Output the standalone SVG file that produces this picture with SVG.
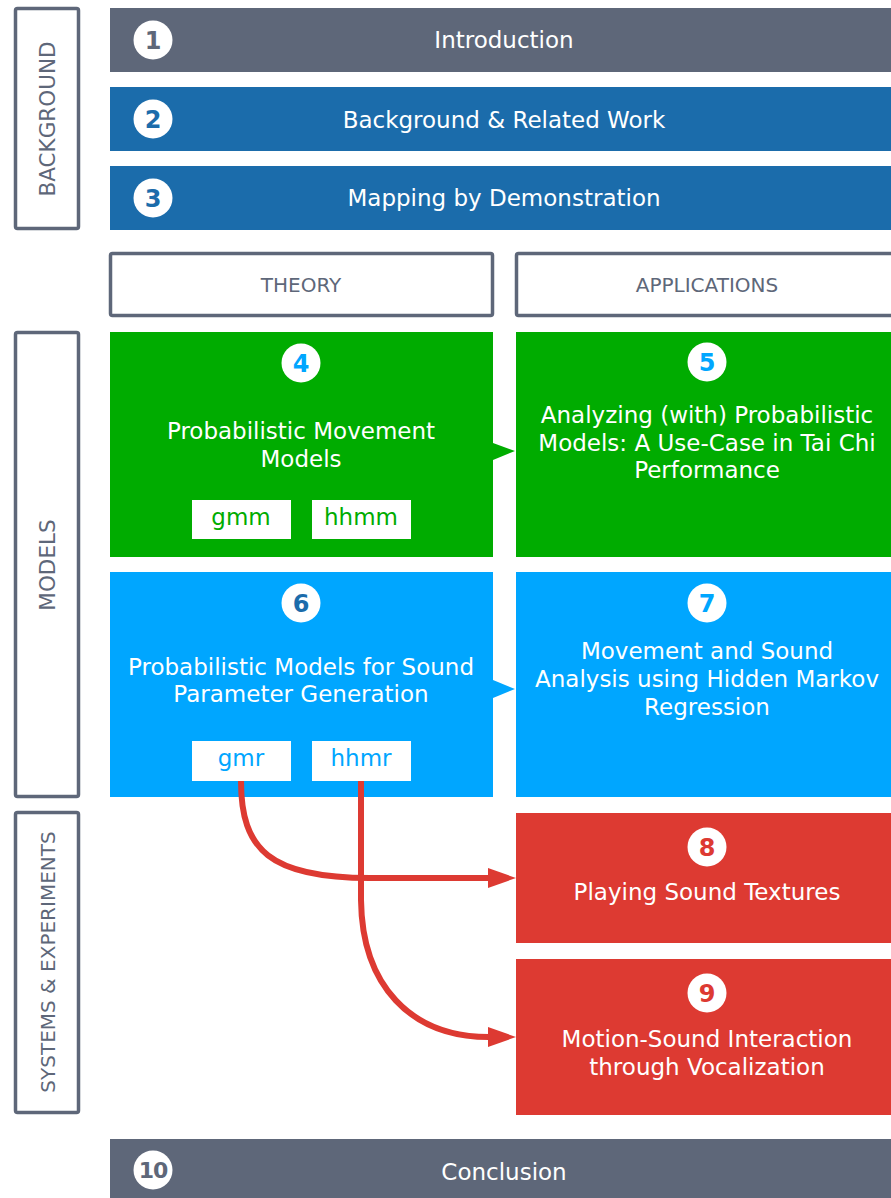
<svg xmlns="http://www.w3.org/2000/svg" width="891" height="1198" viewBox="0 0 891 1198">
<defs>
<style>
.t{font-family:"DejaVu Sans","Liberation Sans",sans-serif;font-size:23px;fill:#ffffff;text-anchor:middle}
.side{fill:#ffffff;stroke:#5e6779;stroke-width:3.5}
.sl{font-family:"DejaVu Sans","Liberation Sans",sans-serif;font-size:20px;fill:#5e6779;text-anchor:middle}
.vl{font-size:21.5px}
.num{font-family:"DejaVu Sans","Liberation Sans",sans-serif;font-size:24px;font-weight:bold;text-anchor:middle}
.tg{font-family:"DejaVu Sans","Liberation Sans",sans-serif;font-size:23px;text-anchor:middle}
.tag{fill:#ffffff}
.conn{fill:none;stroke:#dd3a32;stroke-width:6}
</style>
<marker id="ah" viewBox="0 0 28 20" markerWidth="28" markerHeight="20" refX="1" refY="10" orient="auto" markerUnits="userSpaceOnUse">
<path d="M0,0 L28,10 L0,20 Z" fill="#dd3a32"/>
</marker>
</defs>
<rect width="891" height="1198" fill="#ffffff"/>

<g id="label-background">
<rect class="side" x="15.5" y="8.5" width="63" height="220" rx="2"/>
<text class="sl vl" transform="translate(55,119) rotate(-90)">BACKGROUND</text>
</g>
<g id="label-models">
<rect class="side" x="15.5" y="332.5" width="63" height="464" rx="2"/>
<text class="sl vl" transform="translate(55,565) rotate(-90)">MODELS</text>
</g>
<g id="label-systems">
<rect class="side" x="15.5" y="812.5" width="63" height="300" rx="2"/>
<text class="sl" transform="translate(55,962) rotate(-90)">SYSTEMS &amp; EXPERIMENTS</text>
</g>

<g id="node-1">
<rect x="110" y="8" width="781" height="64" fill="#5e6779"/>
<circle cx="153" cy="40" r="19.5" fill="#ffffff"/>
<text class="num" x="153" y="48.7" fill="#5e6779">1</text>
<text class="t" x="504" y="48">Introduction</text>
</g>
<g id="node-2">
<rect x="110" y="87" width="781" height="64" fill="#1b6cab"/>
<circle cx="153" cy="119" r="19.5" fill="#ffffff"/>
<text class="num" x="153" y="127.7" fill="#1b6cab">2</text>
<text class="t" x="504" y="128">Background &amp; Related Work</text>
</g>
<g id="node-3">
<rect x="110" y="166" width="781" height="64" fill="#1b6cab"/>
<circle cx="153" cy="198" r="19.5" fill="#ffffff"/>
<text class="num" x="153" y="206.7" fill="#1b6cab">3</text>
<text class="t" x="504" y="206">Mapping by Demonstration</text>
</g>

<g id="header-theory">
<rect class="side" x="110.5" y="253.5" width="382" height="62" rx="2"/>
<text class="sl" x="301" y="292">THEORY</text>
</g>
<g id="header-applications">
<rect class="side" x="516.5" y="253.5" width="380" height="62" rx="2"/>
<text class="sl" x="707" y="292">APPLICATIONS</text>
</g>

<g id="node-4">
<rect x="110" y="332" width="383" height="225" fill="#00ac00"/>
<circle cx="301" cy="363" r="19.5" fill="#ffffff"/>
<text class="num" x="301" y="371.7" fill="#00a6ff">4</text>
<text class="t" x="301" y="439">Probabilistic Movement</text>
<text class="t" x="301" y="467">Models</text>
<rect class="tag" x="192" y="500" width="99" height="39"/>
<text class="tg" x="241" y="525" fill="#00ac00">gmm</text>
<rect class="tag" x="312" y="500" width="99" height="39"/>
<text class="tg" x="361" y="525" fill="#00ac00">hhmm</text>
</g>
<g id="node-5">
<rect x="516" y="332" width="375" height="225" fill="#00ac00"/>
<circle cx="707" cy="362" r="19.5" fill="#ffffff"/>
<text class="num" x="707" y="370.7" fill="#00a6ff">5</text>
<text class="t" x="707" y="423">Analyzing (with) Probabilistic</text>
<text class="t" x="707" y="451">Models: A Use-Case in Tai Chi</text>
<text class="t" x="707" y="478">Performance</text>
</g>
<g id="node-6">
<rect x="110" y="572" width="383" height="225" fill="#00a6ff"/>
<circle cx="301" cy="603" r="19.5" fill="#ffffff"/>
<text class="num" x="301" y="611.7" fill="#1b6cab">6</text>
<text class="t" x="301" y="675">Probabilistic Models for Sound</text>
<text class="t" x="301" y="702">Parameter Generation</text>
<rect class="tag" x="192" y="741" width="99" height="40"/>
<text class="tg" x="241" y="766" fill="#00a6ff">gmr</text>
<rect class="tag" x="312" y="741" width="99" height="40"/>
<text class="tg" x="361" y="766" fill="#00a6ff">hhmr</text>
</g>
<g id="node-7">
<rect x="516" y="572" width="375" height="225" fill="#00a6ff"/>
<circle cx="707" cy="603" r="19.5" fill="#ffffff"/>
<text class="num" x="707" y="611.7" fill="#00a6ff">7</text>
<text class="t" x="707" y="659">Movement and Sound</text>
<text class="t" x="707" y="687">Analysis using Hidden Markov</text>
<text class="t" x="707" y="715">Regression</text>
</g>
<g id="node-8">
<rect x="516" y="813" width="375" height="130" fill="#dd3a32"/>
<circle cx="707" cy="847" r="19.5" fill="#ffffff"/>
<text class="num" x="707" y="855.7" fill="#dd3a32">8</text>
<text class="t" x="707" y="900">Playing Sound Textures</text>
</g>
<g id="node-9">
<rect x="516" y="959" width="375" height="156" fill="#dd3a32"/>
<circle cx="707" cy="993" r="19.5" fill="#ffffff"/>
<text class="num" x="707" y="1001.7" fill="#dd3a32">9</text>
<text class="t" x="707" y="1047">Motion-Sound Interaction</text>
<text class="t" x="707" y="1075">through Vocalization</text>
</g>
<g id="node-10">
<rect x="110" y="1139" width="781" height="59" fill="#5e6779"/>
<circle cx="153" cy="1170" r="19.5" fill="#ffffff"/>
<text class="num" x="153" y="1178" fill="#5e6779" style="font-size:22px;letter-spacing:-1px">10</text>
<text class="t" x="504" y="1180">Conclusion</text>
</g>

<g id="connectors">
<path d="M493,443 L515,451 L493,460 Z" fill="#00ac00"/>
<path d="M493,680 L515,689 L493,698 Z" fill="#00a6ff"/>
<path class="conn" d="M241,781 C241,850 270,878 370,878 L489,878" marker-end="url(#ah)"/>
<path class="conn" d="M361,781 L361,900 C362,985 410,1037 489,1037" marker-end="url(#ah)"/>
</g>
</svg>
